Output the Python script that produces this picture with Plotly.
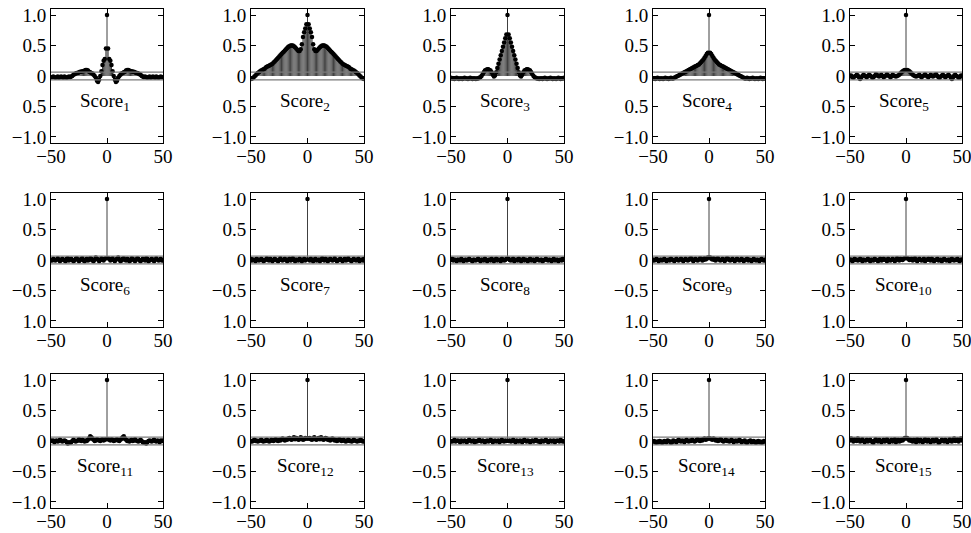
import plotly.graph_objects as go

# ---------------- data ----------------
LAG_MAX = 50
CONF = 0.065
names = [f"Score<sub>{i}</sub>" for i in range(1, 16)]

x_ticks = [-50, 0, 50]
x_ticktext = ["\u221250", "0", "50"]
y_ticks = [1.0, 0.5, 0.0, -0.5, -1.0]
y_ticktext_rows = [
    ["1.0", "0.5", "0", "0.5", "\u22121.0"],
    ["1.0", "0.5", "0", "\u22120.5", "1.0"],
    ["1.0", "0.5", "0", "\u22120.5", "\u22121.0"],
]

# autocorrelation values at lags 0..50 (symmetric for negative lags)
s1 = [1.00,
      0.45, 0.28, 0.25, 0.18, 0.08, 0.00, -0.06, -0.10, -0.08, -0.03,
      0.00, 0.02, 0.04, 0.05, 0.06, 0.07, 0.09, 0.10, 0.10, 0.09,
      0.08, 0.08, 0.07, 0.07, 0.06, 0.05, 0.05, 0.04, 0.03, 0.02,
      0.00, -0.01, -0.02, -0.01, -0.02, -0.03, -0.02, -0.01, -0.03, -0.02,
      -0.01, -0.02, -0.03, -0.01, -0.02, -0.03, -0.02, -0.01, -0.02, -0.02]
s2 = [1.00,
      0.85, 0.78, 0.72, 0.64, 0.52, 0.44, 0.41, 0.41, 0.43, 0.45,
      0.47, 0.49, 0.50, 0.50, 0.50, 0.49, 0.48, 0.46, 0.44, 0.42,
      0.40, 0.38, 0.36, 0.34, 0.32, 0.30, 0.28, 0.26, 0.24, 0.22,
      0.20, 0.19, 0.18, 0.17, 0.16, 0.15, 0.14, 0.12, 0.11, 0.10,
      0.09, 0.08, 0.06, 0.05, 0.03, 0.01, -0.01, -0.03, -0.04, -0.05]
s3 = [1.00,
      0.68, 0.62, 0.55, 0.48, 0.41, 0.34, 0.27, 0.20, 0.13, 0.06,
      0.01, -0.01, 0.02, 0.06, 0.09, 0.10, 0.11, 0.11, 0.10, 0.09,
      0.06, 0.03, 0.00, -0.02, -0.03, -0.04, -0.04, -0.05, -0.04, -0.04,
      -0.05, -0.04, -0.03, -0.04, -0.05, -0.04, -0.04, -0.03, -0.04, -0.05,
      -0.04, -0.04, -0.05, -0.04, -0.03, -0.04, -0.05, -0.04, -0.04, -0.03]
s4 = [1.00,
      0.38, 0.36, 0.33, 0.30, 0.27, 0.25, 0.23, 0.21, 0.19, 0.18,
      0.17, 0.16, 0.15, 0.14, 0.13, 0.12, 0.11, 0.10, 0.09, 0.08,
      0.07, 0.06, 0.05, 0.04, 0.03, 0.02, 0.01, 0.00, -0.01, -0.02,
      -0.03, -0.04, -0.04, -0.03, -0.04, -0.05, -0.04, -0.04, -0.03, -0.04,
      -0.05, -0.04, -0.04, -0.05, -0.04, -0.03, -0.04, -0.05, -0.04, -0.04]
s5 = [1.00,
      0.10, 0.09, 0.08, 0.06, 0.04, 0.02, 0.01, 0.00, -0.01, 0.00,
      0.01, 0.02, -0.01, -0.02, 0.00, 0.01, 0.03, 0.01, -0.01, -0.02,
      0.00, 0.02, 0.01, -0.01, 0.00, 0.02, 0.03, 0.00, -0.02, -0.03,
      -0.01, 0.01, 0.02, 0.00, -0.02, -0.01, 0.01, 0.02, 0.00, -0.03,
      -0.05, -0.02, 0.01, 0.02, 0.00, -0.01, -0.03, -0.02, 0.01, 0.00]
s6 = [1.00,
      0.03, 0.02, -0.01, 0.01, 0.03, 0.00, -0.02, 0.01, 0.02, 0.04,
      0.01, -0.02, -0.01, 0.02, 0.03, 0.00, -0.01, 0.02, 0.01, -0.02,
      -0.01, 0.03, 0.02, 0.00, -0.02, 0.01, 0.03, 0.02, -0.01, -0.02,
      0.00, 0.02, 0.01, -0.01, 0.03, 0.02, -0.02, -0.01, 0.01, 0.02,
      0.00, -0.02, 0.01, 0.03, 0.01, -0.01, 0.00, 0.02, -0.01, 0.00]
s7 = [1.00,
      0.01, -0.01, 0.02, 0.00, -0.02, 0.01, 0.02, -0.01, 0.00, 0.01,
      -0.02, 0.01, 0.03, 0.00, -0.01, 0.02, 0.01, -0.02, 0.00, 0.02,
      0.01, -0.01, 0.00, 0.03, 0.01, -0.02, -0.01, 0.01, 0.02, 0.00,
      -0.02, 0.01, 0.02, -0.01, 0.00, 0.03, 0.01, -0.01, -0.02, 0.01,
      0.02, 0.00, -0.01, 0.01, 0.02, -0.02, 0.00, 0.01, -0.01, 0.02]
s8 = [1.00,
      0.02, 0.00, -0.01, 0.01, 0.02, -0.02, 0.00, 0.01, -0.01, 0.02,
      0.01, -0.02, 0.00, 0.02, -0.01, 0.01, 0.00, -0.02, 0.01, 0.02,
      -0.01, 0.00, 0.01, -0.02, 0.00, 0.02, 0.01, -0.01, 0.00, 0.01,
      -0.02, -0.01, 0.01, 0.02, 0.00, -0.01, 0.01, 0.00, -0.02, 0.01,
      0.02, -0.01, 0.00, 0.01, -0.02, 0.00, 0.01, -0.01, 0.02, 0.00]
s9 = [1.00,
      0.04, 0.02, 0.01, 0.03, 0.00, -0.01, 0.02, 0.03, 0.01, -0.01,
      0.00, 0.02, 0.01, -0.02, 0.01, 0.03, 0.02, 0.00, -0.01, 0.01,
      0.02, 0.00, -0.02, 0.01, 0.02, 0.01, -0.01, 0.00, 0.02, 0.01,
      -0.02, 0.00, 0.01, 0.02, -0.01, 0.01, 0.00, -0.02, 0.01, 0.02,
      0.00, -0.01, 0.01, 0.00, -0.02, 0.01, 0.02, 0.00, -0.01, 0.01]
s10 = [1.00,
       0.03, 0.02, 0.00, 0.01, 0.02, -0.01, 0.01, 0.03, 0.00, -0.02,
       0.01, 0.02, 0.00, -0.01, 0.01, 0.02, -0.02, 0.00, 0.01, 0.02,
       0.00, -0.01, 0.02, 0.01, -0.02, 0.00, 0.01, 0.02, -0.01, 0.00,
       0.01, -0.02, 0.00, 0.02, 0.01, -0.01, 0.00, 0.01, -0.02, 0.01,
       0.02, 0.00, -0.01, 0.01, 0.00, 0.02, -0.01, -0.02, 0.01, 0.00]
s11 = [1.00,
       0.03, 0.02, 0.01, 0.03, 0.02, 0.00, 0.01, 0.02, 0.03, 0.01,
       0.00, 0.02, 0.04, 0.06, 0.08, 0.04, 0.02, 0.00, 0.01, -0.01,
       0.01, 0.02, 0.00, 0.01, 0.03, 0.01, 0.00, -0.01, 0.01, 0.02,
       0.00, -0.02, -0.03, -0.02, -0.04, -0.02, 0.00, 0.01, 0.00, -0.01,
       0.01, 0.02, 0.00, -0.01, 0.01, 0.00, -0.02, 0.01, 0.00, 0.01]
s12 = [1.00,
       0.04, 0.05, 0.03, 0.02, 0.04, 0.06, 0.03, 0.02, 0.04, 0.05,
       0.03, 0.06, 0.04, 0.02, 0.03, 0.05, 0.04, 0.02, 0.03, 0.01,
       0.02, 0.04, 0.03, 0.01, 0.02, 0.00, 0.01, 0.03, 0.02, 0.00,
       0.01, 0.02, 0.00, -0.01, 0.01, 0.02, 0.00, 0.01, -0.01, 0.00,
       0.02, 0.01, 0.00, -0.01, 0.01, 0.00, 0.02, 0.01, -0.01, 0.00]
s13 = [1.00,
       0.00, 0.01, -0.01, 0.00, 0.02, 0.00, -0.02, 0.01, 0.00, -0.01,
       0.01, 0.00, -0.02, 0.01, 0.02, 0.00, -0.01, 0.01, 0.00, -0.02,
       0.00, 0.01, -0.01, 0.00, 0.02, 0.01, -0.01, 0.00, -0.02, 0.01,
       0.00, -0.01, 0.01, 0.02, 0.00, -0.02, 0.00, 0.01, -0.01, 0.00,
       0.01, -0.02, 0.00, 0.01, 0.00, -0.01, 0.02, 0.00, -0.01, 0.00]
s14 = [1.00,
       0.04, 0.03, 0.02, 0.04, 0.03, 0.01, 0.02, 0.00, 0.01, 0.03,
       0.02, 0.00, -0.01, 0.01, 0.02, 0.00, 0.01, -0.01, 0.00, 0.02,
       0.01, -0.02, 0.00, 0.01, -0.01, 0.00, 0.02, 0.01, -0.02, -0.01,
       0.00, 0.01, -0.02, -0.03, -0.01, 0.00, 0.01, -0.02, -0.01, 0.00,
       -0.02, -0.03, -0.01, 0.00, -0.02, -0.01, -0.03, -0.02, 0.00, -0.01]
s15 = [1.00,
       0.05, 0.03, 0.01, 0.02, 0.00, -0.01, 0.02, 0.01, -0.02, 0.03,
       0.01, -0.01, 0.02, 0.00, -0.02, 0.01, 0.03, 0.00, -0.01, 0.02,
       0.00, -0.02, 0.01, 0.02, -0.01, 0.00, 0.03, 0.01, -0.03, -0.02,
       0.00, 0.02, 0.01, -0.01, 0.02, 0.00, -0.02, 0.01, 0.03, 0.00,
       -0.01, 0.02, 0.04, 0.00, 0.01, 0.03, -0.01, 0.02, 0.04, 0.01]
series = [s1, s2, s3, s4, s5, s6, s7, s8, s9, s10, s11, s12, s13, s14, s15]

# ---------------- layout geometry (pixels) ----------------
W, H = 971, 533
col_px = [(51, 163), (251, 364), (451, 564), (653, 765), (850, 962)]
row_px = [(9, 143), (193, 327), (374, 508)]
FONT = "Liberation Serif"

fig = go.Figure()
layout = dict(width=W, height=H, margin=dict(l=0, r=0, t=0, b=0, pad=0),
              template="none",
              paper_bgcolor="white", plot_bgcolor="white", showlegend=False,
              annotations=[], shapes=[])

lags = list(range(-LAG_MAX, LAG_MAX + 1))
for i, half in enumerate(series):
    r, c = divmod(i, 5)
    k = i + 1
    xa = "x" if k == 1 else f"x{k}"
    ya = "y" if k == 1 else f"y{k}"
    vals = half[:0:-1] + half
    # stems
    sx, sy = [], []
    for lg, v in zip(lags, vals):
        sx += [lg, lg, None]
        sy += [0, v, None]
    fig.add_trace(go.Scatter(x=sx, y=sy, mode="lines", xaxis=xa, yaxis=ya,
                             line=dict(color="#404040", width=1), hoverinfo="skip"))
    fig.add_trace(go.Scatter(x=lags, y=vals, mode="markers", xaxis=xa, yaxis=ya,
                             marker=dict(color="black", size=4.5, line=dict(width=0))))
    x0, x1 = col_px[c]
    y0, y1 = row_px[r]
    axis_common = dict(showline=True, linecolor="black", linewidth=1, mirror="ticks",
                       ticks="inside", ticklen=5, tickwidth=1, tickcolor="black",
                       showgrid=False, zeroline=False, automargin=False,
                       ticklabeloverflow="allow",
                       tickfont=dict(family=FONT, size=19, color="black"))
    layout["xaxis" if k == 1 else f"xaxis{k}"] = dict(
        domain=[x0 / W, x1 / W], anchor=ya, range=[-LAG_MAX, LAG_MAX],
        tickvals=x_ticks, ticktext=x_ticktext, ticklabelstandoff=-4, **axis_common)
    layout["yaxis" if k == 1 else f"yaxis{k}"] = dict(
        domain=[1 - y1 / H, 1 - y0 / H], anchor=xa, range=[-1.1, 1.1],
        tickvals=y_ticks, ticktext=y_ticktext_rows[r], **axis_common)
    for b in (CONF, -CONF):
        layout["shapes"].append(dict(type="line", xref=f"{xa} domain", yref=ya,
                                     x0=0, x1=1, y0=b, y1=b,
                                     line=dict(color="#7a7a7a", width=1.3)))
    layout["annotations"].append(dict(text=names[i], x=-2, y=-0.42, xref=xa, yref=ya,
                                      showarrow=False,
                                      font=dict(family=FONT, size=19, color="black")))

fig.update_layout(**layout)
fig.write_html("out.html", config={"displayModeBar": False},
               post_script="document.body.style.margin='0';document.body.style.overflow='hidden';")
